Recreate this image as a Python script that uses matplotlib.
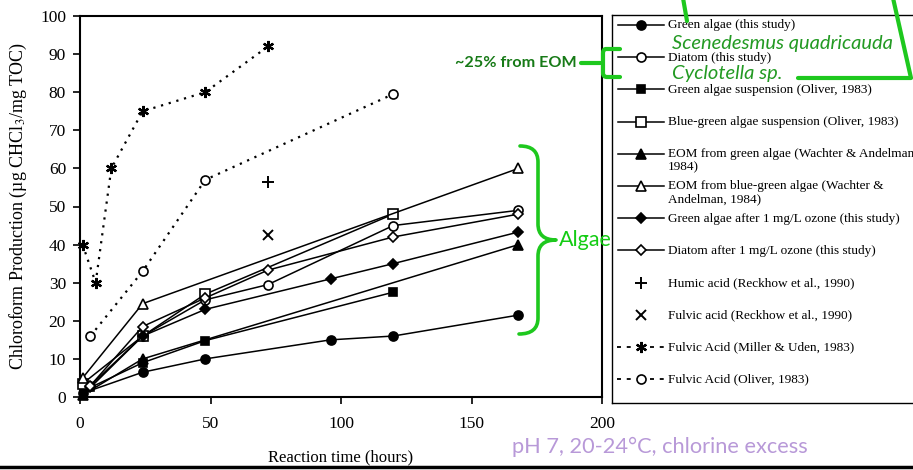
import matplotlib
matplotlib.use("Agg")
import matplotlib.pyplot as plt
import matplotlib.transforms as mtransforms
from matplotlib.path import Path
from matplotlib.patches import PathPatch
from matplotlib.lines import Line2D

plt.rcParams['font.family'] = ['Liberation Serif', 'DejaVu Serif']
plt.rcParams['mathtext.fontset'] = 'stix'

# reaction time (hours) and chloroform yield (ug CHCl3 / mg TOC)
green_algae_t = [1, 24, 48, 96, 120, 168]
green_algae = [1, 6.5, 10, 15, 16, 21.5]
diatom_t = [4, 24, 48, 72, 120, 168]
diatom = [3, 16, 25.5, 29.5, 45, 49]
green_susp_t = [4, 24, 48, 120]
green_susp = [2.5, 9, 14.8, 27.5]
bluegreen_susp_t = [1, 24, 48, 120]
bluegreen_susp = [3.5, 16, 27, 48]
eom_green_t = [1, 24, 168]
eom_green = [0.5, 10, 40]
eom_bluegreen_t = [1, 24, 168]
eom_bluegreen = [5, 24.5, 60]
green_ozone_t = [4, 24, 48, 96, 120, 168]
green_ozone = [2.5, 16, 23, 31, 35, 43.3]
diatom_ozone_t = [4, 24, 48, 72, 120, 168]
diatom_ozone = [3, 18.5, 26, 33.3, 42, 48]
humic_t = [72]
humic = [56.5]
fulvic_reckhow_t = [72]
fulvic_reckhow = [42.5]
fulvic_miller_t = [1, 6, 12, 24, 48, 72]
fulvic_miller = [40, 30, 60, 75, 80, 92]
fulvic_oliver_t = [4, 24, 48, 120]
fulvic_oliver = [16, 33, 57, 79.5]

labels = [
    'Green algae (this study)',
    'Diatom (this study)',
    'Green algae suspension (Oliver, 1983)',
    'Blue-green algae suspension (Oliver, 1983)',
    'EOM from green algae (Wachter & Andelman\n1984)',
    'EOM from blue-green algae (Wachter &\nAndelman, 1984)',
    'Green algae after 1 mg/L ozone (this study)',
    'Diatom after 1 mg/L ozone (this study)',
    'Humic acid (Reckhow et al., 1990)',
    'Fulvic acid (Reckhow et al., 1990)',
    'Fulvic Acid (Miller & Uden, 1983)',
    'Fulvic Acid (Oliver, 1983)',
]

dots = (0, (1, 2.6))
asterisk = (6, 2, 0)
series = [
    (green_algae_t, green_algae, dict(marker='o', ms=6.5, mfc='k', ls='-')),
    (diatom_t, diatom, dict(marker='o', ms=6.5, mfc='white', ls='-')),
    (green_susp_t, green_susp, dict(marker='s', ms=6, mfc='k', ls='-')),
    (bluegreen_susp_t, bluegreen_susp, dict(marker='s', ms=6.5, mfc='white', ls='-')),
    (eom_green_t, eom_green, dict(marker='^', ms=6.5, mfc='k', ls='-')),
    (eom_bluegreen_t, eom_bluegreen, dict(marker='^', ms=6.5, mfc='white', ls='-')),
    (green_ozone_t, green_ozone, dict(marker='D', ms=4.8, mfc='k', ls='-')),
    (diatom_ozone_t, diatom_ozone, dict(marker='D', ms=4.8, mfc='white', ls='-')),
    (humic_t, humic, dict(marker='+', ms=8, mew=1.4, ls='none')),
    (fulvic_reckhow_t, fulvic_reckhow, dict(marker='x', ms=7, mew=1.4, ls='none')),
    (fulvic_miller_t, fulvic_miller, dict(marker=asterisk, ms=8, mew=1.6, ls=dots, lw=1.6)),
    (fulvic_oliver_t, fulvic_oliver, dict(marker='o', ms=6.5, mfc='white', ls=dots, lw=1.6)),
]

fig = plt.figure(figsize=(9.13, 4.7), dpi=100)
ax = fig.add_axes([80 / 913, 73 / 470, 522 / 913, 381 / 470])

for t, v, style in series:
    kw = dict(color='k', lw=1.1, mec='k', mew=1.2)
    kw.update(style)
    ax.plot(t, v, clip_on=False, zorder=3, **kw)

ax.set_xlim(0, 200)
ax.set_ylim(0, 100)
ax.set_xticks(range(0, 201, 50))
ax.set_yticks(range(0, 101, 10))
ax.tick_params(direction='out', length=5, width=1.2, labelsize=12.5)
ax.tick_params(axis='x', pad=9)
ax.tick_params(axis='y', pad=5)
for s in ax.spines.values():
    s.set_linewidth(1.5)
ax.set_xlabel('Reaction time (hours)', fontsize=12, labelpad=12)
ax.set_ylabel('Chloroform Production (µg CHCl$_3$/mg TOC)', fontsize=13, labelpad=8)

# legend panel laid out in pixel-like units
lg = fig.add_axes([612 / 913, 67 / 470, 330 / 913, 388 / 470])
lg.set_xlim(612, 942)
lg.set_ylim(403, 15)
lg.set_xticks([])
lg.set_yticks([])
for s in lg.spines.values():
    s.set_linewidth(1.0)

row0, pitch = 25, 32.2
for i, ((t, v, style), label) in enumerate(zip(series, labels)):
    y = row0 + i * pitch
    kw = dict(color='k', lw=1.1, mec='k', mew=1.2)
    kw.update(style)
    if kw['ls'] == '-':
        lg.plot([618, 641, 664], [y, y, y], markevery=[1], **kw)
    elif kw['ls'] == 'none':
        lg.plot([641], [y], **kw)
    else:
        kw['ls'] = (0, (2.2, 3.2))
        kw['lw'] = 1.3
        m = kw.pop('marker')
        lg.plot([617, 632], [y, y], **kw)
        lg.plot([650, 665], [y, y], **kw)
        kw['ls'] = 'none'
        lg.plot([641], [y], marker=m, **kw)
    lg.text(668, y - 5.5, label, fontsize=9.5, va='top', ha='left', linespacing=1.08)

# annotation overlay in figure pixels (origin top-left)
px = mtransforms.Affine2D().scale(1 / 913, -1 / 470).translate(0, 1) + fig.transFigure
bright = '#1ec81e'


def overlay_path(verts, codes, lw=3, color=bright):
    fig.patches.append(PathPatch(Path(verts, codes), transform=px, fill=False,
                                 lw=lw, ec=color, capstyle='round', joinstyle='round'))


M, L, C = Path.MOVETO, Path.LINETO, Path.CURVE3

fig.text(577, 63, '~25% from EOM', transform=px, family='Lato', weight='bold',
         fontsize=11.6, color='#177a17', ha='right', va='center')
overlay_path([(581, 63), (600, 63), (620, 49), (606, 49), (603, 49), (603, 53),
              (603, 73), (603, 77), (607, 77), (620, 77)],
             [M, L, M, L, C, C, L, C, C, L])
fig.text(672, 43, 'Scenedesmus quadricauda', transform=px, family='Lato', style='italic',
         fontsize=14.5, color='#239a23', ha='left', va='center')
fig.text(672, 74, 'Cyclotella sp.', transform=px, family='Lato', style='italic',
         fontsize=14.5, color='#239a23', ha='left', va='center')
overlay_path([(683, -2), (687, 21)], [M, L])
overlay_path([(893, -2), (911, 78), (798, 78)], [M, L, L])

# curly brace around the algae series
overlay_path([(520, 146), (538, 146), (538, 162), (538, 224), (538, 240), (556, 240),
              (538, 240), (538, 256), (538, 318), (538, 334), (519, 334)],
             [M, C, C, L, C, C, C, C, L, C, C], lw=2.6)
fig.text(559, 240, 'Algae', transform=px, family='Lato', fontsize=15.5,
         color='#14cc14', ha='left', va='center')

fig.text(512, 447, 'pH 7, 20-24°C, chlorine excess', transform=px, family='Lato',
         fontsize=15.7, color='#b899d8', ha='left', va='center')

fig.add_artist(Line2D([0, 913], [467, 467], transform=px, color='k', lw=2.5))

fig.savefig('out.png', dpi=100)
